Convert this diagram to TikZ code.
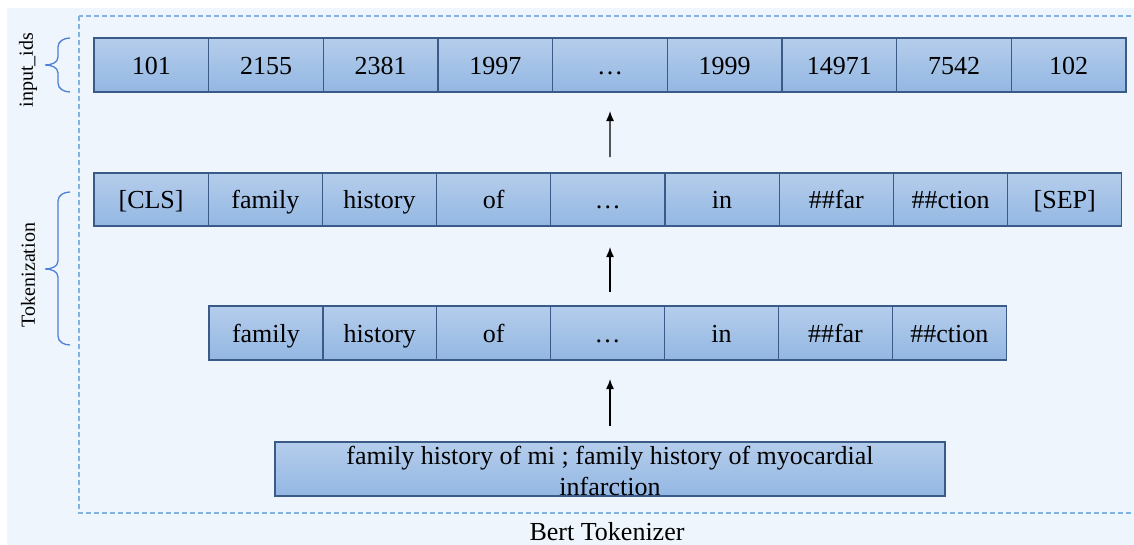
\documentclass[tikz,border=0pt]{standalone}
\usepackage{fontspec}
\setmainfont{Liberation Serif}
\usetikzlibrary{arrows.meta}
\definecolor{panelbg}{HTML}{EEF5FC}
\definecolor{framedash}{HTML}{7FB2E5}
\definecolor{celltop}{HTML}{B5CDEB}
\definecolor{cellbot}{HTML}{93B7E3}
\definecolor{cellline}{HTML}{3B5A88}
\definecolor{bracecol}{HTML}{4F7FD3}
\tikzset{
  cell/.style={draw=cellline, line width=1.2pt, top color=celltop, bottom color=cellbot,
    minimum height=54pt, inner sep=0pt, outer sep=0pt, text height=22pt, text depth=4pt,
    font=\fontsize{26}{31}\selectfont, text=black},
  flowarrow/.style={-{Latex[length=10pt,width=8pt]}, line width=1.4pt, black,
    shorten <=16pt, shorten >=19pt},
  bracepath/.style={draw=bracecol, line width=1.3pt},
  sidelabel/.style={rotate=90, font=\fontsize{20}{24}\selectfont, text=black, inner sep=0pt},
}
\begin{document}
\begin{tikzpicture}[x=1pt,y=-1pt]
\useasboundingbox (0,0) rectangle (1134,544);
% panel and dashed frame
\fill[panelbg] (7,8) rectangle (1140,550);
\draw[framedash, line width=1.1pt, dash pattern=on 5pt off 3pt] (79,16) rectangle (1140,513);

% input ids row
\foreach \t [count=\i] in {101,2155,2381,1997,…,1999,14971,7542,102}
  \node[cell, minimum width=114.67pt] (id\i) at ({94+(\i-0.5)*114.67},65) {\t};

% tokens with special markers
\foreach \t [count=\i] in {[CLS],family,history,of,…,in,\#\#far,\#\#ction,[SEP]}
  \node[cell, minimum width=114.2pt, minimum height=53pt] (tk\i) at ({94+(\i-0.5)*114.2},199.5) {\t};

% word pieces
\foreach \t [count=\i] in {family,history,of,…,in,\#\#far,\#\#ction}
  \node[cell, minimum width=113.9pt] (wp\i) at ({209+(\i-0.5)*113.9},333) {\t};

% raw sentence
\node[cell, minimum width=670pt] (sent) at (610,469) {};
\node[font=\fontsize{26}{31}\selectfont, align=center, inner sep=0pt] (senttext) at (610,471)
  {family history of mi ; family history of myocardial\\infarction};

% arrows between stages
\coordinate (axis) at (610,0);
\draw[flowarrow] (sent.north) -- (wp4.south -| axis);
\draw[flowarrow, shorten <=14pt, shorten >=21pt] (wp4.north -| axis) -- (tk5.south -| axis);
\draw[flowarrow] (tk5.north -| axis) -- (id5.south);

% braces
\draw[bracepath] (70,38) to[out=180,in=90] (58,47) -- (58,57) to[out=-90,in=0] (45,65)
  to[out=0,in=90] (58,73) -- (58,83) to[out=-90,in=180] (70,92);
\draw[bracepath] (70,192) to[out=180,in=90] (58,201) -- (58,261) to[out=-90,in=0] (45,269)
  to[out=0,in=90] (58,277) -- (58,336) to[out=-90,in=180] (70,345);

\node[sidelabel] (lblids) at (28,70) {input\_ids};
\node[sidelabel] (lbltok) at (28,275) {Tokenization};

\node[font=\fontsize{26}{31}\selectfont, anchor=base, inner sep=0pt] (title) at (607,540) {Bert Tokenizer};
\end{tikzpicture}
\end{document}
